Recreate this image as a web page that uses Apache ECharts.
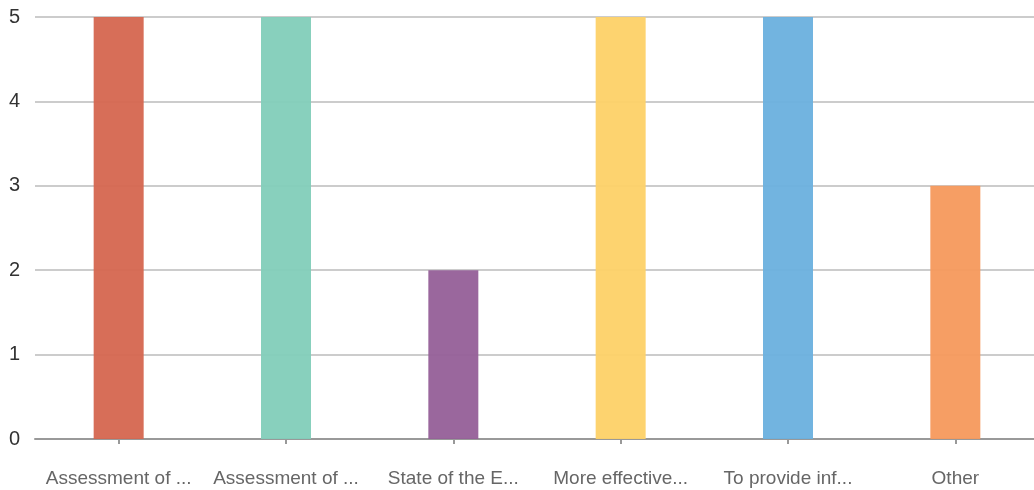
<!DOCTYPE html>
<html>
<head>
<meta charset="utf-8">
<script src="https://cdn.jsdelivr.net/npm/echarts@6/dist/echarts.min.js"></script>
<style>
  html, body { margin: 0; padding: 0; background: #fff; overflow: hidden; width: 1034px; height: 490px; }
  /* the plot area runs slightly past the right edge of the visible page */
  #chart { width: 1039px; height: 490px; }
</style>
</head>
<body>
<div id="chart"></div>
<script>
// Response counts per category
const categories = ['Assessment of ...', 'Assessment of ...', 'State of the E...', 'More effective...', 'To provide inf...', 'Other'];
const counts = [5, 5, 2, 5, 5, 3];
const barColors = ['#D5664F', '#82CDB9', '#955F98', '#FDD167', '#6AB0DE', '#F6995C'];
const yTicks = [0, 1, 2, 3, 4, 5];

const chart = echarts.init(document.getElementById('chart'), null, { renderer: 'canvas' });
chart.setOption({
  animation: false,
  grid: { left: 35, right: 0, top: 17, bottom: 51, containLabel: false },
  xAxis: {
    type: 'category',
    data: categories,
    axisLine: { show: true, lineStyle: { color: '#999', width: 2 } },
    axisTick: { show: true, alignWithLabel: true, length: 5, lineStyle: { color: '#999', width: 2 } },
    axisLabel: { interval: 0, margin: 30, color: '#666', fontFamily: 'Liberation Sans', fontSize: 19 },
    splitLine: { show: false }
  },
  yAxis: {
    type: 'value',
    min: yTicks[0],
    max: yTicks[yTicks.length - 1],
    interval: 1,
    axisLine: { show: false },
    axisTick: { show: false },
    axisLabel: { margin: 15, color: '#333', fontFamily: 'Liberation Sans', fontSize: 20 },
    splitLine: { lineStyle: { color: '#ccc', width: 2 } }
  },
  series: [{
    type: 'bar',
    barWidth: 50,
    data: counts.map((v, i) => ({ value: v, itemStyle: { color: barColors[i], opacity: 0.95 } }))
  }]
});
</script>
</body>
</html>
